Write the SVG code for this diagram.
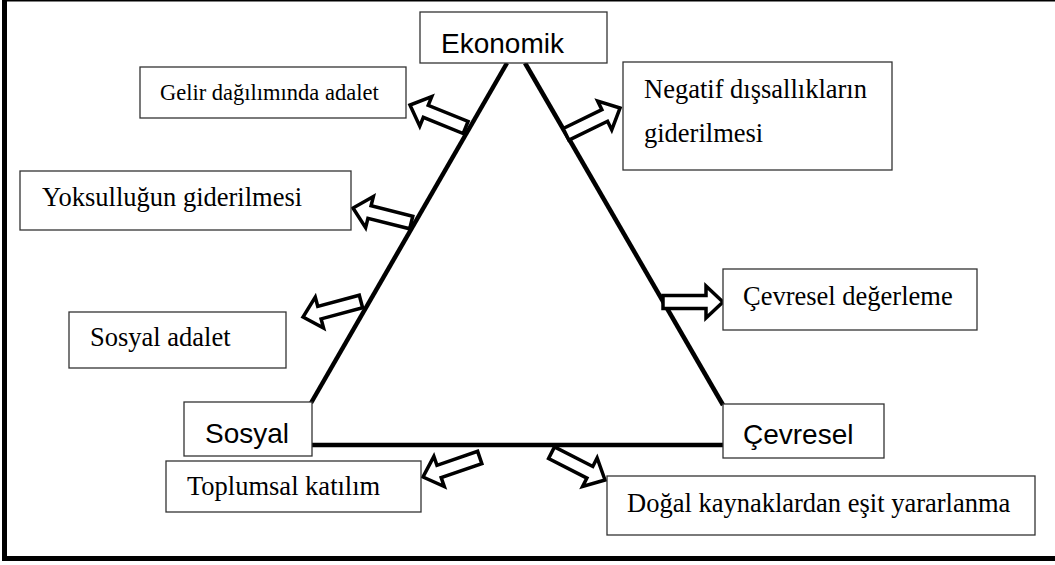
<svg xmlns="http://www.w3.org/2000/svg" width="1055" height="565" viewBox="0 0 1055 565">
  <style>
    .box { fill: #fff; stroke: #333; stroke-width: 1.3; }
    .lbl { font-family: 'Liberation Serif', 'DejaVu Serif', serif; font-size: 26.5px; fill: #000; }
    .lbl.small { font-size: 22.5px; }
    .dim { font-family: 'Liberation Sans', Arial, sans-serif; font-size: 28px; fill: #000; }
    .edge { stroke: #000; stroke-width: 4.5; fill: none; }
    .blk { fill: #fff; stroke: #000; stroke-width: 3.5; stroke-linejoin: miter; }
  </style>
  <defs>
    <!-- hollow block arrow, tip at the origin, pointing along +x -->
    <path id="blockArrow" class="blk" d="M0,0 L-17,-16 L-17,-6.5 L-60,-6.5 L-60,6.5 L-17,6.5 L-17,16 Z"/>
  </defs>

  <rect width="1055" height="565" fill="#fff"/>
  <!-- outer frame -->
  <rect x="4.5" y="-1" width="1060" height="559.5" fill="none" stroke="#000" stroke-width="5"/>

  <!-- triangle sides and outward arrows -->
  <g id="connectors">
    <line class="edge" x1="507" y1="63" x2="311" y2="403"/>
    <line class="edge" x1="525" y1="63" x2="723" y2="405"/>
    <line class="edge" x1="312" y1="445" x2="723" y2="445"/>
    <use href="#blockArrow" transform="translate(410,105) rotate(202)"/>
    <use href="#blockArrow" transform="translate(620,108) rotate(-26)"/>
    <use href="#blockArrow" transform="translate(353,208) rotate(194)"/>
    <use href="#blockArrow" transform="translate(303,317) rotate(165)"/>
    <use href="#blockArrow" transform="translate(723,302)"/>
    <use href="#blockArrow" transform="translate(423,477) rotate(161)"/>
    <use href="#blockArrow" transform="translate(605,480) rotate(27)"/>
  </g>

  <!-- triangle corners -->
  <g id="ekonomik">
    <rect class="box" x="420" y="12" width="187" height="51"/>
    <text class="dim" x="441" y="53">Ekonomik</text>
  </g>
  <g id="sosyal">
    <rect class="box" x="184" y="402" width="128" height="54"/>
    <text class="dim" x="205" y="443">Sosyal</text>
  </g>
  <g id="cevresel">
    <rect class="box" x="723" y="404" width="161" height="54"/>
    <text class="dim" x="743" y="444">Çevresel</text>
  </g>

  <!-- outcome labels -->
  <g id="gelir">
    <rect class="box" x="140" y="67" width="266" height="51"/>
    <text class="lbl small" x="160" y="100">Gelir dağılımında adalet</text>
  </g>
  <g id="negatif">
    <rect class="box" x="623" y="62" width="269" height="108"/>
    <text class="lbl" x="644" y="98">Negatif dışsallıkların</text>
    <text class="lbl" x="644" y="142">giderilmesi</text>
  </g>
  <g id="yoksulluk">
    <rect class="box" x="20" y="171" width="331" height="59"/>
    <text class="lbl" x="42" y="206">Yoksulluğun giderilmesi</text>
  </g>
  <g id="sosyal-adalet">
    <rect class="box" x="69" y="312" width="217" height="56"/>
    <text class="lbl" x="90" y="346">Sosyal adalet</text>
  </g>
  <g id="degerleme">
    <rect class="box" x="723" y="269" width="254" height="61"/>
    <text class="lbl" x="743" y="305">Çevresel değerleme</text>
  </g>
  <g id="katilim">
    <rect class="box" x="166" y="461" width="255" height="51"/>
    <text class="lbl" x="187" y="495">Toplumsal katılım</text>
  </g>
  <g id="dogal">
    <rect class="box" x="607" y="476" width="428" height="59"/>
    <text class="lbl" x="627" y="512">Doğal kaynaklardan eşit yararlanma</text>
  </g>
</svg>
